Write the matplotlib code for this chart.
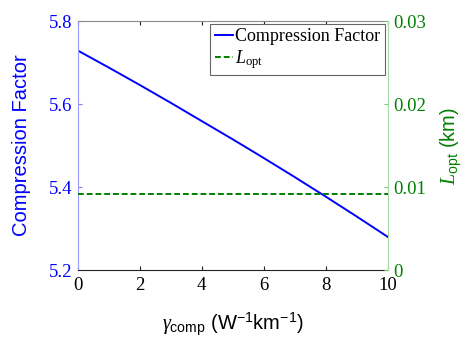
import numpy as np
import matplotlib.pyplot as plt

plt.rcParams['mathtext.fontset'] = 'custom'
plt.rcParams['mathtext.rm'] = 'Liberation Serif'
plt.rcParams['mathtext.sf'] = 'Liberation Sans'
plt.rcParams['mathtext.it'] = 'Liberation Serif:italic'

# data
gamma_comp = [0, 1, 2, 3, 4, 5, 6, 7, 8, 9, 10]
compression = [5.729, 5.688, 5.646, 5.603, 5.559, 5.515, 5.470, 5.424, 5.377, 5.329, 5.280]
l_opt = [0.0092] * len(gamma_comp)

x_ticks = [0, 2, 4, 6, 8, 10]
y1_ticks = [5.2, 5.4, 5.6, 5.8]
y2_ticks = [0, 0.01, 0.02, 0.03]
y2_labels = ['0', '0.01', '0.02', '0.03']

blue = '#0000ff'
green = '#008000'
serif = 'Liberation Serif'

fig = plt.figure(figsize=(4.66, 3.39), dpi=100)
ax1 = fig.add_axes([0.1667, 0.2035, 0.6652, 0.7345])
ax2 = ax1.twinx()

l1, = ax1.plot(gamma_comp, compression, color=blue, linewidth=1.4, label='Compression Factor')
l2, = ax2.plot(gamma_comp, l_opt, color=green, linestyle='--', linewidth=1.4,
               dashes=(3, 1.5), label=r'$L_{\mathrm{opt}}$')

ax1.set_xlim(0, 10)
ax1.set_ylim(5.2, 5.8)
ax2.set_ylim(0, 0.03)

ax1.set_xticks(x_ticks)
ax1.set_xticklabels([str(v) for v in x_ticks], fontfamily=serif, fontsize=13.5)
ax1.set_yticks(y1_ticks)
ax1.set_yticklabels([f'{v:.1f}' for v in y1_ticks], fontfamily=serif, fontsize=13.5)
ax2.set_yticks(y2_ticks)
ax2.set_yticklabels(y2_labels, fontfamily=serif, fontsize=13.5)

ax1.tick_params(axis='x', direction='in', top=True, length=3, colors='#222222', pad=5)
ax1.tick_params(axis='y', direction='in', length=3, colors='#8080ff', pad=4)
ax2.tick_params(axis='y', direction='in', length=3, colors='#80c080', pad=4)
for lbl in ax1.get_yticklabels():
    lbl.set_color(blue)
for lbl in ax2.get_yticklabels():
    lbl.set_color(green)
for lbl in ax1.get_xticklabels():
    lbl.set_color('black')

ax1.spines['left'].set_color('#9999ff')
ax1.spines['top'].set_color('#888888')
ax1.spines['bottom'].set_color('#222222')
ax2.spines['right'].set_color('#a8d8a8')
ax2.spines['left'].set_visible(False)
ax2.spines['top'].set_visible(False)
ax2.spines['bottom'].set_visible(False)
ax1.spines['right'].set_visible(False)

ax1.set_ylabel('Compression Factor', color=blue, fontfamily='Liberation Sans', fontsize=14.5, labelpad=13)
ax2.set_ylabel(r'$L_{\mathsf{opt}}$ (km)', color=green, fontfamily='Liberation Sans', fontsize=14.5,
               rotation=90, labelpad=9)
ax1.set_xlabel(r'$\gamma_{\mathsf{comp}}$ (W$^{\mathsf{-1}}$km$^{\mathsf{-1}}$)',
               fontfamily='Liberation Sans', fontsize=14.5, labelpad=12)

leg = ax1.legend([l1, l2], ['Compression Factor', r'$L_{\mathrm{opt}}$'], loc='upper right',
                 prop={'family': serif, 'size': 13}, fancybox=False, framealpha=1,
                 edgecolor='#666666', handlelength=1.0, handletextpad=0.15,
                 borderaxespad=0.15, borderpad=0.25, labelspacing=0.15)
leg.get_frame().set_linewidth(0.8)

fig.savefig('out.png', dpi=100)
